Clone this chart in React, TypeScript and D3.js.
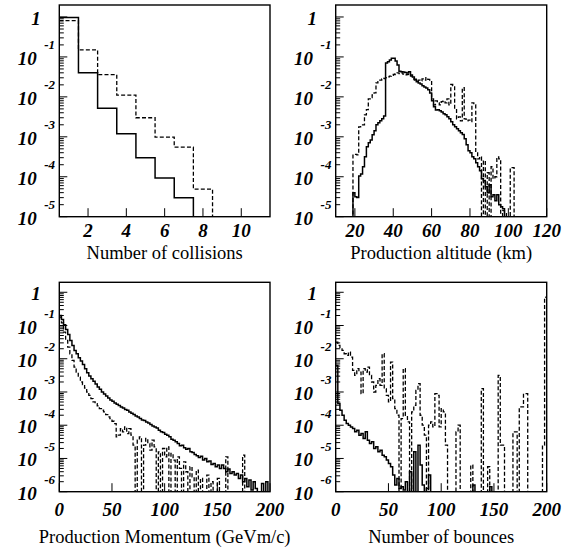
import React from 'react';
import * as d3 from 'd3';

// ---------- data ----------
// Panel 1: number of collisions (bins centred on integers)
const collisionBins = [1, 2, 3, 4, 5, 6, 7, 8, 9, 10, 11];
const collisionSolid = [0.97, 0.04, 5.2e-3, 1.2e-3, 3e-4, 9.3e-5, 3e-5, 0, 0, 0, 0];
const collisionDashed = [0.81, 0.15, 0.036, 0.011, 3e-3, 9.8e-4, 5.5e-4, 4.9e-5, 0, 0, 0];
const collisionTicks = [2, 4, 6, 8, 10];

// Panel 2: production altitude, 1 km bins starting at 18 km (log10 of content, null = empty)
const altitudeStart = 18;
const altitudeSolidLog = [
  null, -4.4, -4.5, -4.52, -3.98, -3.93, -3.75, -3.5, -3.25, -3.15,
  -3.08, -2.95, -2.85, -2.7, -2.65, -2.6, -2.55, -2.48, -1.15, -1.12,
  -1.08, -1.03, -1.03, -1.1, -1.2, -1.36, -1.37, -1.38, -1.39, -1.4,
  -1.37, -1.45, -1.5, -1.56, -1.62, -1.65, -1.68, -1.72, -1.75, -1.78,
  -1.82, -1.9, -2.1, -2.25, -2.33, -2.32, -2.35, -2.38, -2.42, -2.45,
  -2.5, -2.55, -2.62, -2.7, -2.75, -2.8, -2.85, -2.9, -2.94, -3.05,
  -3.2, -3.35, -3.4, -3.5, -3.55, -3.65, -3.75, -3.85, -4.05, -4.1,
  -4.25, -4.4, -4.2, -4.5, -4.45, -4.6, -4.45, -4.7, -4.75, -4.8,
  -5.0, -5.0, null, null, null, null,
];
const altitudeDashedLog = [
  null, -3.44, -3.44, -3.45, -2.75, -2.72, -2.7, -2.45, -2.32, -2.05,
  -2.02, -1.95, -1.9, -1.65, -1.62, -1.58, -1.55, -1.54, -1.52, -1.5,
  -1.48, -1.46, -1.44, -1.42, -1.4, -1.42, -1.4, -1.43, -1.45, -1.44,
  -1.47, -1.48, -1.55, -1.58, -1.6, -1.58, -1.6, -1.55, -1.58, -1.52,
  -1.56, -1.6, -2.05, -2.2, -2.1, -2.15, -2.2, -2.12, -2.1, -2.15,
  -2.05, -2.2, -1.69, -1.72, -2.3, -2.55, -2.5, -2.6, -1.77, -2.55,
  -2.6, -2.58, -2.62, -2.15, -2.2, -3.4, -3.55, -3.5, null, -3.6,
  null, -3.9, null, -3.75, -4.05, -4.0, -3.5, -3.55, null, -4.85,
  -4.9, -5.0, null, -3.77, -3.77, null,
];
const altitudeTicks = [20, 40, 60, 80, 100, 120];

// Panel 3: production momentum, 2 GeV bins from 0 (log10 of content)
const momentumSolidLog = [
  -0.7, -0.82, -0.98, -1.12, -1.27, -1.45, -1.6, -1.75, -1.85, -1.97,
  -2.07, -2.17, -2.3, -2.42, -2.52, -2.6, -2.68, -2.76, -2.85, -2.92,
  -3.0, -3.06, -3.12, -3.18, -3.24, -3.28, -3.33, -3.37, -3.41, -3.45,
  -3.48, -3.53, -3.55, -3.6, -3.64, -3.68, -3.72, -3.75, -3.8, -3.84,
  -3.86, -3.9, -3.93, -3.98, -4.02, -4.05, -4.08, -4.15, -4.2, -4.22,
  -4.27, -4.3, -4.35, -4.42, -4.45, -4.5, -4.55, -4.62, -4.6, -4.68,
  -4.72, -4.7, -4.8, -4.82, -4.88, -4.92, -4.97, -4.93, -5.05, -5.0,
  -5.1, -5.08, -5.18, -5.15, -5.25, -5.2, -5.3, -5.2, -5.3, -5.4,
  -5.32, -5.45, -5.4, -5.5, -5.45, -5.6, -5.5, -5.7, -5.6, -5.85,
  -5.65, -5.95, -5.7, -5.9, null, null, -5.75, null, -5.7, null,
];
const momentumDashedLog = [
  -0.75, -0.92, -1.2, -1.45, -1.65, -1.85, -2.05, -2.25, -2.4, -2.55,
  -2.7, -2.78, -2.88, -3.0, -3.1, -3.2, -3.3, -3.35, -3.42, -3.5,
  -3.55, -3.6, -3.68, -3.75, -3.8, -3.88, -3.95, -4.35, -4.3, -4.1,
  -4.2, -4.05, -4.25, -4.1, -4.3, -4.6, null, -4.45, -4.35, null,
  -4.6, -4.4, -4.55, -4.75, -4.45, -4.65, null, -4.8, null, -4.7,
  -4.95, -4.65, null, -4.85, -5.05, null, -4.95, -5.3, null, -5.1,
  -5.4, null, -5.25, -5.55, null, -5.35, null, -5.6, null, null,
  -5.5, null, -5.7, null, null, -5.6, null, null, null, -4.95,
  null, null, null, null, null, null, null, -4.9, null, null,
  null, null, null, null, null, null, null, null, null, null,
];
const momentumTicks = [0, 50, 100, 150, 200];

// Panel 4: number of bounces, 2-bounce bins from 0 (log10 of content)
const bounceSolidLog = [
  -2.2, -3.35, -3.55, -3.7, -3.85, -3.95, -4.0, -4.05, -4.1, -4.2,
  -4.15, -4.3, -4.25, -4.4, -4.2, -4.45, -4.55, -4.5, -4.7, -4.65,
  -4.8, -4.75, -4.9, -4.95, -5.05, -5.15, -5.25, -5.5, -5.8, -5.6,
  -5.9, -5.85, -5.95, -5.7, null, -5.4, null, -4.8, null, -4.6,
  -5.2, -5.8, null, -5.9, -5.5, null, null, null, null, null,
  null, null, null, null, null, null, null, null, null, null,
  null, null, null, null, null, -5.8, null, null, null, null,
  null, null, null, -5.85, null, null, null, null, null, null,
  null, null, null, null, null, null, null, null, null, null,
  null, null, null, null, null, null, null, null, null, null,
];
const bounceDashedLog = [
  -1.5, -1.6, -1.7, -1.75, -1.85, -1.9, -1.8, -1.95, -2.35, -2.5,
  -2.3, -2.4, -3.05, -2.3, -2.4, -2.25, -2.5, -2.7, -3.0, -2.8,
  -2.6, -2.8, -1.85, -2.9, -3.1, -3.3, -2.1, -3.2, -3.5, -3.7,
  null, -3.8, -2.3, -3.7, -3.9, null, -3.6, -3.4, -2.95, -2.75,
  -3.7, -4.0, -4.3, null, -4.0, -3.9, -4.05, -3.05, -3.1, -4.05,
  -3.5, -3.6, -4.6, null, null, null, null, -4.2, -4.0, null,
  null, null, null, null, -5.2, null, null, null, null, -2.9,
  null, null, -5.25, null, null, null, null, -2.5, -4.6, -4.6,
  null, null, null, null, -4.2, -4.2, null, -3.45, -3.45, -3.05,
  -3.05, null, null, null, null, null, null, null, -4.6, -0.15,
];
const bounceTicks = [0, 50, 100, 150, 200];

// ---------- layout ----------
const W = 574;
const H = 548;
const LEFT_COL = { l: 59.3, r: 270 };
const RIGHT_COL = { l: 335.7, r: 546.7 };
const TOP_ROW = { t: 5, b: 216.7, minExp: -5, tickLabelOff: 20.5, titleY: 258.5 };
const BOT_ROW = { t: 282.3, b: 491.7, minExp: -6, tickLabelOff: 24.5, titleY: 542.5 };
const TOP_EXP = 0.3;
const FONT = "'Liberation Serif', 'Times New Roman', serif";

type Series = { starts: number[]; width: number; values: (number | null)[]; dashed: boolean };

function toValues(logs: (number | null)[]) {
  return logs.map((e) => (e === null ? null : Math.pow(10, e)));
}
function edges(start: number, width: number, n: number) {
  return d3.range(n).map((i) => start + i * width);
}

type PanelProps = {
  id: string;
  col: { l: number; r: number };
  row: typeof TOP_ROW;
  xDomain: [number, number];
  xTicks: number[];
  title: string;
  series: Series[];
};

function Panel({ id, col, row, xDomain, xTicks, title, series }: PanelProps) {
  const x = d3.scaleLinear().domain(xDomain).range([col.l, col.r]);
  const y = d3
    .scaleLog()
    .domain([Math.pow(10, row.minExp), Math.pow(10, TOP_EXP)])
    .range([row.b, row.t]);
  const yv = (v: number | null) => (v === null || v <= 0 ? row.b + 2 : Math.min(y(v), row.b + 2));

  const line = d3
    .line<[number, number]>()
    .x((d) => d[0])
    .y((d) => d[1])
    .curve(d3.curveStepAfter);

  const paths = series.map((s) => {
    const pts: [number, number][] = s.starts.map((st, i) => [x(st), yv(s.values[i])]);
    const last = s.starts.length - 1;
    pts.push([x(s.starts[last] + s.width), yv(s.values[last])]);
    return { d: line(pts) || '', dashed: s.dashed };
  });

  const exps = d3.range(row.minExp, 1);
  const minor: number[] = [];
  for (let e = row.minExp; e <= 0; e++) {
    for (let k = 2; k <= 9; k++) {
      const v = k * Math.pow(10, e);
      if (v < Math.pow(10, TOP_EXP)) minor.push(v);
    }
  }

  return (
    <g>
      <defs>
        <clipPath id={`clip-${id}`}>
          <rect x={col.l} y={row.t} width={col.r - col.l} height={row.b - row.t} />
        </clipPath>
      </defs>
      <g clipPath={`url(#clip-${id})`}>
        {paths.map((p, i) => (
          <path
            key={i}
            d={p.d}
            fill="none"
            stroke="#000"
            strokeWidth={p.dashed ? 1.3 : 1.5}
            strokeDasharray={p.dashed ? '4,2.2' : undefined}
          />
        ))}
      </g>
      {/* y ticks */}
      {exps.map((e) => (
        <line key={`M${e}`} x1={col.l} x2={col.l + 8} y1={y(Math.pow(10, e))} y2={y(Math.pow(10, e))} stroke="#000" strokeWidth={1} />
      ))}
      {minor.map((v, i) => (
        <line key={`m${i}`} x1={col.l} x2={col.l + 4.5} y1={y(v)} y2={y(v)} stroke="#000" strokeWidth={1} />
      ))}
      {/* x ticks */}
      {xTicks.map((t) => (
        <line key={`x${t}`} x1={x(t)} x2={x(t)} y1={row.b} y2={row.b - 8.5} stroke="#000" strokeWidth={1} />
      ))}
      {/* frame */}
      <rect x={col.l} y={row.t} width={col.r - col.l} height={row.b - row.t} fill="none" stroke="#000" strokeWidth={1.4} />
      {/* y labels */}
      {exps.map((e) => {
        const ty = y(Math.pow(10, e));
        if (e === 0) {
          return (
            <text key={`yl${e}`} x={col.l - 18.6} y={ty + 8} textAnchor="end" fontFamily={FONT} fontWeight="bold" fontStyle="italic" fontSize={19}>
              1
            </text>
          );
        }
        return (
          <g key={`yl${e}`}>
            <text x={col.l - 22.6} y={ty + 8} textAnchor="end" fontFamily={FONT} fontWeight="bold" fontStyle="italic" fontSize={19}>
              10
            </text>
            <text x={col.l - 4.3} y={ty - 7.7} textAnchor="end" fontFamily={FONT} fontWeight="bold" fontStyle="italic" fontSize={13}>
              {`-${-e}`}
            </text>
          </g>
        );
      })}
      {/* x labels */}
      {xTicks.map((t) => (
        <text key={`xl${t}`} x={x(t)} y={row.b + row.tickLabelOff} textAnchor="middle" fontFamily={FONT} fontWeight="bold" fontStyle="italic" fontSize={19}>
          {t}
        </text>
      ))}
      <text x={(col.l + col.r) / 2} y={row.titleY} textAnchor="middle" fontFamily={FONT} fontSize={18.5}>
        {title}
      </text>
    </g>
  );
}

export default function App() {
  const altN = altitudeSolidLog.length;
  return (
    <svg width={W} height={H} style={{ position: 'absolute', left: 0, top: 0, background: '#fff' }}>
      <rect x={0} y={0} width={W} height={H} fill="#fff" />
      <Panel
        id="p1"
        col={LEFT_COL}
        row={TOP_ROW}
        xDomain={[0.5, 11.5]}
        xTicks={collisionTicks}
        title="Number of collisions"
        series={[
          { starts: collisionBins.map((c) => c - 0.5), width: 1, values: collisionSolid, dashed: false },
          { starts: collisionBins.map((c) => c - 0.5), width: 1, values: collisionDashed, dashed: true },
        ]}
      />
      <Panel
        id="p2"
        col={RIGHT_COL}
        row={TOP_ROW}
        xDomain={[10, 120]}
        xTicks={altitudeTicks}
        title="Production altitude (km)"
        series={[
          { starts: edges(altitudeStart, 1, altN), width: 1, values: toValues(altitudeDashedLog), dashed: true },
          { starts: edges(altitudeStart, 1, altN), width: 1, values: toValues(altitudeSolidLog), dashed: false },
        ]}
      />
      <Panel
        id="p3"
        col={LEFT_COL}
        row={BOT_ROW}
        xDomain={[0, 200]}
        xTicks={momentumTicks}
        title="Production Momentum (GeVm/c)"
        series={[
          { starts: edges(0, 2, momentumDashedLog.length), width: 2, values: toValues(momentumDashedLog), dashed: true },
          { starts: edges(0, 2, momentumSolidLog.length), width: 2, values: toValues(momentumSolidLog), dashed: false },
        ]}
      />
      <Panel
        id="p4"
        col={RIGHT_COL}
        row={BOT_ROW}
        xDomain={[0, 200]}
        xTicks={bounceTicks}
        title="Number of bounces"
        series={[
          { starts: edges(0, 2, bounceDashedLog.length), width: 2, values: toValues(bounceDashedLog), dashed: true },
          { starts: edges(0, 2, bounceSolidLog.length), width: 2, values: toValues(bounceSolidLog), dashed: false },
        ]}
      />
    </svg>
  );
}
